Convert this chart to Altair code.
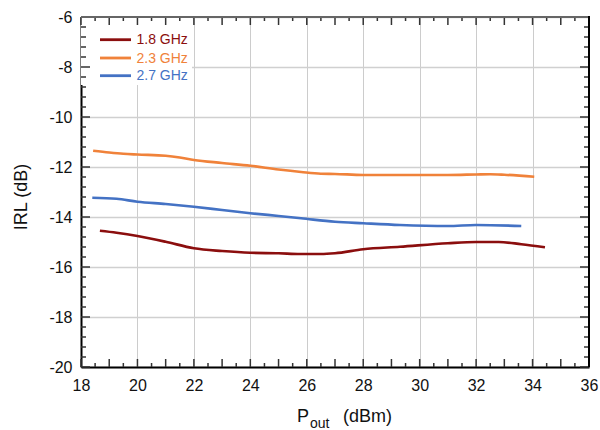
import altair as alt
import pandas as pd

# ---- data ----
series_names = ["1.8 GHz", "2.3 GHz", "2.7 GHz"]
series_colors = ["#8B0E0E", "#F0823A", "#4472C4"]

x_18 = [18.67, 19.26, 20.0, 21.0, 22.0, 23.0, 24.0, 25.0, 25.77, 26.5, 27.0, 28.0, 29.3, 31.0, 32.0, 32.8, 33.6, 34.44]
y_18 = [-14.55, -14.63, -14.76, -14.99, -15.25, -15.36, -15.43, -15.45, -15.48, -15.48, -15.45, -15.29, -15.19, -15.05, -15.0, -15.0, -15.09, -15.21]

x_23 = [18.43, 19.0, 19.5, 20.0, 21.0, 21.5, 22.0, 23.0, 24.0, 25.0, 25.8, 26.5, 27.0, 28.0, 29.0, 30.0, 31.0, 32.0, 32.5, 33.0, 34.06]
y_23 = [-11.35, -11.42, -11.47, -11.5, -11.55, -11.62, -11.72, -11.84, -11.95, -12.1, -12.2, -12.27, -12.28, -12.32, -12.32, -12.32, -12.32, -12.3, -12.29, -12.31, -12.39]

x_27 = [18.4, 19.26, 20.0, 21.0, 22.0, 23.0, 24.0, 25.0, 25.8, 27.0, 28.0, 29.3, 31.0, 32.0, 33.6]
y_27 = [-13.23, -13.27, -13.39, -13.48, -13.59, -13.72, -13.85, -13.96, -14.05, -14.19, -14.25, -14.32, -14.36, -14.32, -14.36]

x_grid = list(range(18, 37))
y_grid = [-20, -18, -16, -14, -12, -10, -8, -6]
x_minor = [18 + 0.5 * i for i in range(37)]
y_minor = [round(-20 + 0.4 * i, 2) for i in range(36)]

W, H = 508, 350
FONT = "Liberation Sans"

frames = []
for name, xs, ys in [(series_names[0], x_18, y_18), (series_names[1], x_23, y_23), (series_names[2], x_27, y_27)]:
    frames.append(pd.DataFrame({"x": xs, "y": ys, "series": name}))
df = pd.concat(frames, ignore_index=True)

xscale = alt.Scale(domain=[18, 36], nice=False, zero=False)
yscale = alt.Scale(domain=[-20, -6], nice=False, zero=False)
color_scale = alt.Scale(domain=series_names, range=series_colors)

x_axis = alt.Axis(values=x_grid, title=None, grid=True, gridColor="#cccccc", gridWidth=1,
                  ticks=False, domain=True, domainColor="#000000", domainWidth=2,
                  labelExpr="datum.value % 2 == 0 ? toString(datum.value) : ''",
                  labelPadding=10, labelFlush=False)
y_axis = alt.Axis(values=y_grid, title=None, grid=True, gridColor="#d0d0d0", gridWidth=1.5,
                  ticks=False, domain=True, domainColor="#000000", domainWidth=2,
                  labelExpr="toString(datum.value)",
                  labelPadding=9, labelFlush=False)

lines = alt.Chart(df).mark_line(strokeWidth=2.7, interpolate="monotone").encode(
    x=alt.X("x:Q", scale=xscale, axis=x_axis),
    y=alt.Y("y:Q", scale=yscale, axis=y_axis),
    color=alt.Color("series:N", scale=color_scale, legend=None),
    detail="series:N",
)

one = pd.DataFrame({"a": [0]})

# legend background box
legend_bg = alt.Chart(one).mark_rect(color="white").encode(
    x=alt.value(0), x2=alt.value(111), y=alt.value(1), y2=alt.value(68)
)

# legend items
legend_layers = []
leg_y = [22.7, 41, 58.7]
for name, col, yy in zip(series_names, series_colors, leg_y):
    d = pd.DataFrame({"series": [name]})
    legend_layers.append(alt.Chart(d).mark_rule(strokeWidth=2.8, color=col).encode(
        x=alt.value(19), x2=alt.value(50), y=alt.value(yy)))
    legend_layers.append(alt.Chart(d).mark_text(align="left", baseline="middle", font=FONT,
                                                fontSize=14, color=col).encode(
        x=alt.value(55.5), y=alt.value(yy + 0.5), text="series:N"))

# inward ticks
def tick_layer(vals, orient, length):
    d = pd.DataFrame({"v": vals})
    m = alt.Chart(d).mark_rule(color="#333333", strokeWidth=1.5)
    if orient == "bottom":
        return m.encode(x=alt.X("v:Q", scale=xscale), y=alt.value(H), y2=alt.value(H - length))
    if orient == "top":
        return m.encode(x=alt.X("v:Q", scale=xscale), y=alt.value(0), y2=alt.value(length))
    if orient == "left":
        return m.encode(y=alt.Y("v:Q", scale=yscale), x=alt.value(0), x2=alt.value(length))
    return m.encode(y=alt.Y("v:Q", scale=yscale), x=alt.value(W), x2=alt.value(W - length))

x_major = [v for v in x_minor if float(v).is_integer()]
x_half = [v for v in x_minor if not float(v).is_integer()]
y_major = y_grid
y_small = [v for v in y_minor if abs(v - round(v / 2) * 2) > 1e-6]

ticks = [
    tick_layer(x_major, "bottom", 8), tick_layer(x_half, "bottom", 4),
    tick_layer(x_major, "top", 8), tick_layer(x_half, "top", 4),
    tick_layer(y_major, "left", 9), tick_layer(y_small, "left", 5),
    tick_layer(y_major, "right", 9), tick_layer(y_small, "right", 5),
]

frame_top = alt.Chart(one).mark_rule(color="#666666", strokeWidth=2).encode(
    x=alt.value(0), x2=alt.value(W + 1), y=alt.value(0))
frame_right = alt.Chart(one).mark_rule(color="#000000", strokeWidth=2).encode(
    x=alt.value(W), y=alt.value(-1), y2=alt.value(H))

# y title
t_y = alt.Chart(one).mark_text(align="center", baseline="middle", font=FONT, fontSize=18, angle=270,
                               color="#111111", text="IRL (dB)").encode(x=alt.value(-59), y=alt.value(180))

# x title with subscript
t_p = alt.Chart(one).mark_text(align="left", baseline="alphabetic", font=FONT, fontSize=18,
                               color="#111111", text="P").encode(x=alt.value(216), y=alt.value(405))
t_out = alt.Chart(one).mark_text(align="left", baseline="alphabetic", font=FONT, fontSize=14,
                                 color="#111111", text="out").encode(x=alt.value(229), y=alt.value(411))
t_dbm = alt.Chart(one).mark_text(align="left", baseline="alphabetic", font=FONT, fontSize=18,
                                 color="#111111", text="(dBm)").encode(x=alt.value(262), y=alt.value(405))

chart = alt.layer(
    legend_bg, lines, *legend_layers, *ticks, frame_top, frame_right, t_y, t_p, t_out, t_dbm
).properties(
    width=W, height=H,
    autosize=alt.AutoSizeParams(type="none"),
    padding={"left": 81, "top": 17, "right": 11, "bottom": 63},
).configure_view(stroke=None).configure(background="white").configure_axis(
    labelFont=FONT, labelFontSize=16, labelColor="#111111",
)

chart.save("out.html", embed_options={"renderer": "svg", "actions": False})
